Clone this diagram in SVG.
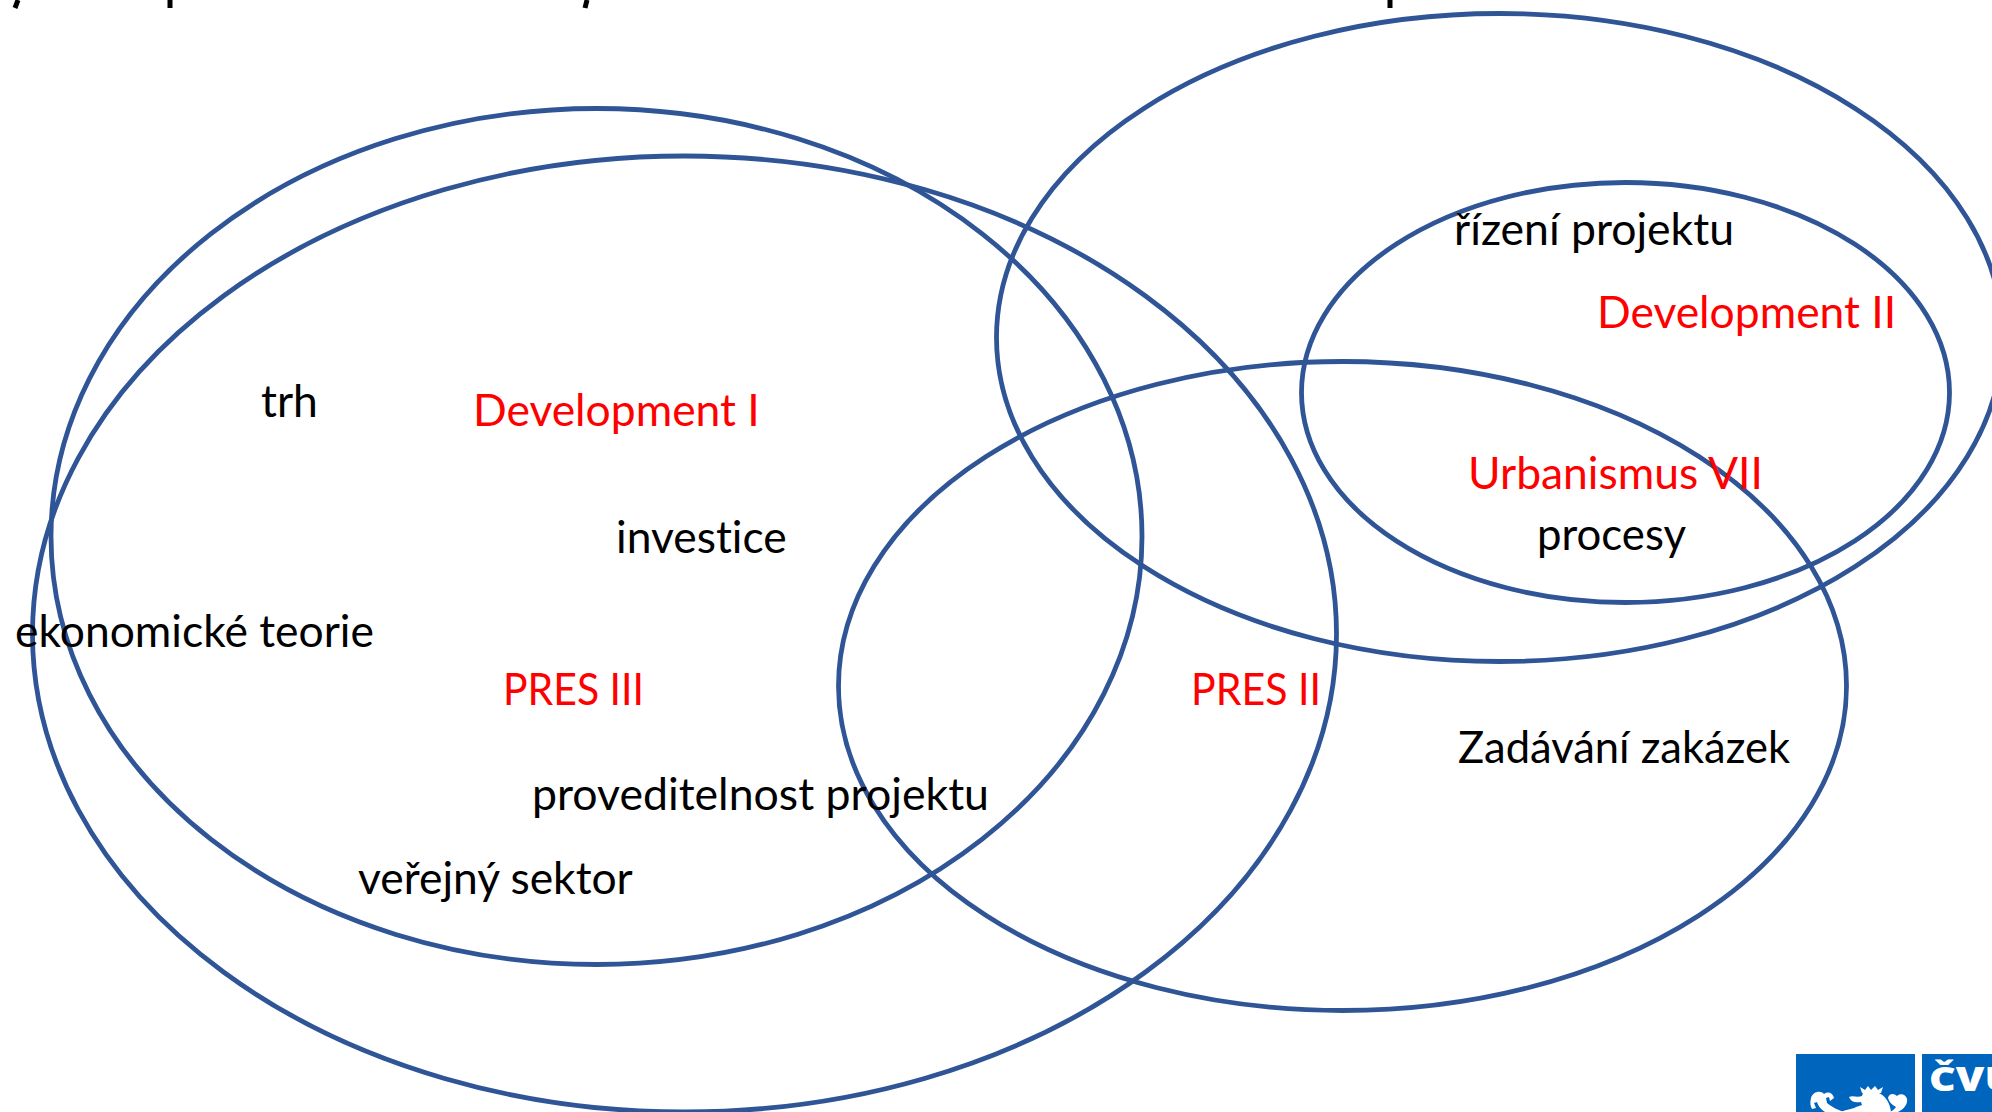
<svg xmlns="http://www.w3.org/2000/svg" width="1992" height="1112" viewBox="0 0 1992 1112">
<style>
.e{fill:none;stroke:#2f5597;stroke-width:4.8}
text{font-family:"Lato","Carlito","Liberation Sans",sans-serif;font-size:44.4px;fill:#000;font-variant-ligatures:none}
.r{fill:#f00}
.frag{stroke:#000;stroke-width:5;fill:none}
.w{fill:#fff}
</style>
<rect width="1992" height="1112" fill="#fff"/>
<g id="title-fragments">
<path class="frag" d="M18 0L15 8"/><path class="frag" d="M170 0V8"/><path class="frag" d="M587 0L585 8"/><path class="frag" d="M1390 0V8"/>
</g>
<g id="connectors"/>
<g id="set-a"><ellipse class="e" cx="596.5" cy="536.5" rx="545.5" ry="428"/></g>
<g id="set-b"><ellipse class="e" cx="684.5" cy="634" rx="652" ry="478"/></g>
<g id="set-c"><ellipse class="e" cx="1499.5" cy="337.5" rx="503" ry="324"/></g>
<g id="set-d"><ellipse class="e" cx="1625.5" cy="392.5" rx="324" ry="210"/></g>
<g id="set-e"><ellipse class="e" cx="1342.5" cy="686" rx="504" ry="324.5"/></g>
<g id="labels">
<text x="261" y="416.5">trh</text>
<text class="r" x="473" y="425.5">Development I</text>
<text x="616" y="553">investice</text>
<text x="15" y="646.5">ekonomické teorie</text>
<text class="r" x="503" y="704.5" textLength="141" lengthAdjust="spacingAndGlyphs">PRES III</text>
<text x="532" y="809.5" textLength="457" lengthAdjust="spacingAndGlyphs">proveditelnost projektu</text>
<text x="358" y="893.5">veřejný sektor</text>
<text class="r" x="1191" y="704.5" textLength="130" lengthAdjust="spacingAndGlyphs">PRES II</text>
<text x="1458" y="763" textLength="332" lengthAdjust="spacingAndGlyphs">Zadávání zakázek</text>
<text x="1454" y="244.5" textLength="280" lengthAdjust="spacingAndGlyphs">řízení projektu</text>
<text class="r" x="1597" y="327.5">Development II</text>
<text class="r" x="1468" y="489">Urbanismus VII</text>
<text x="1537" y="550" textLength="149" lengthAdjust="spacingAndGlyphs">procesy</text>
</g>
<g id="logo">
<rect x="1796" y="1054" width="119" height="58" fill="#0065bd"/>
<rect x="1922" y="1054" width="70" height="58" fill="#0065bd"/>
<text transform="translate(1929 1091) scale(1.25 1)" style="font-family:'Open Sans',sans-serif;font-weight:800;font-size:33px;fill:#fff">ČVUT</text>
<path class="w" d="M1862 1093l-2-6 5 3 3-4 3 4 4-4 3 4 5-3-2 6z"/>
<path class="w" d="M1849 1097c4-2 8 1 13-1l1-3h16c6 3 11 9 12 19h-50c6-3 12-3 15-5l6-2-1-3c-5 1-10 0-12-5z"/>
<path class="w" d="M1811 1098c2-7 10-8 13-4 4-3 9-1 10 4l-4 3-1-4-3 1 1 5c5 4 10 7 18 9h-20c-5-3-7-7-8-10l-3 1 2 5-4 1c-2-3-2-7-1-11z"/>
<path class="w" d="M1888 1098c1-5 6-5 9-2 3-3 9-2 10 3 1 5-3 10-9 13h-8c3-2 5-3 6-5-4-2-7-5-8-9z"/>
</g>
</svg>
